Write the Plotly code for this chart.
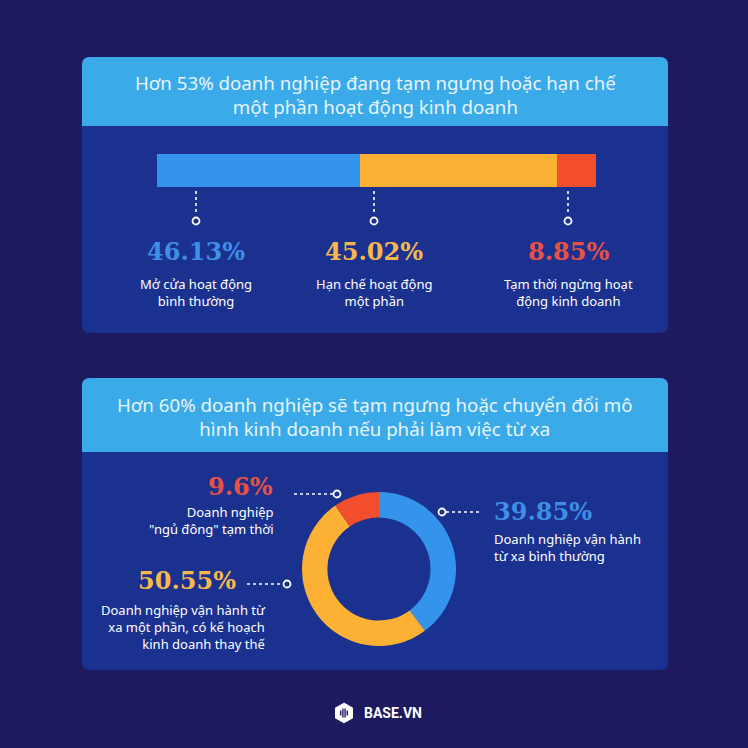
import plotly.graph_objects as go

# ---------------- data ----------------
title_top = "Hơn 53% doanh nghiệp đang tạm ngưng hoặc hạn chế<br>một phần hoạt động kinh doanh"
bar_values = [46.13, 45.02, 8.85]
bar_labels = ["Mở cửa hoạt động<br>bình thường",
              "Hạn chế hoạt động<br>một phần",
              "Tạm thời ngừng hoạt<br>động kinh doanh"]

title_bottom = "Hơn 60% doanh nghiệp sẽ tạm ngưng hoặc chuyển đổi mô<br>hình kinh doanh nếu phải làm việc từ xa"
donut_values = [39.85, 50.55, 9.6]
donut_labels = ["Doanh nghiệp vận hành<br>từ xa bình thường",
                "Doanh nghiệp vận hành từ<br>xa một phần, có kế hoạch<br>kinh doanh thay thế",
                "Doanh nghiệp<br>\"ngủ đông\" tạm thời"]

brand = "BASE.VN"

# ---------------- style ----------------
BG = "#1d1a5f"
BODY = "#1a3190"
HEAD = "#3aaae8"
SEG = ["#3494ec", "#fdb134", "#f24e2d"]
PCT = ["#3f8fe6", "#f7b84b", "#ea5145"]
W = H = 748


def X(px):
    return px / W


def Y(py):
    return 1 - py / H


def rrect(x0, y0, x1, y1, rt, rb):
    p = [f"M {X(x0 + rt)},{Y(y0)}",
         f"L {X(x1 - rt)},{Y(y0)}",
         f"Q {X(x1)},{Y(y0)} {X(x1)},{Y(y0 + rt)}",
         f"L {X(x1)},{Y(y1 - rb)}",
         f"Q {X(x1)},{Y(y1)} {X(x1 - rb)},{Y(y1)}",
         f"L {X(x0 + rb)},{Y(y1)}",
         f"Q {X(x0)},{Y(y1)} {X(x0)},{Y(y1 - rb)}",
         f"L {X(x0)},{Y(y0 + rt)}",
         f"Q {X(x0)},{Y(y0)} {X(x0 + rt)},{Y(y0)}", "Z"]
    return " ".join(p)


fig = go.Figure()

# stacked bar
for i, v in enumerate(bar_values):
    fig.add_trace(go.Bar(x=[v], y=["s"], orientation="h", marker=dict(color=SEG[i], line=dict(width=0)),
                         xaxis="x", yaxis="y", showlegend=False, hoverinfo="x"))

# donut
fig.add_trace(go.Pie(values=donut_values, labels=["a", "b", "c"], hole=0.67, sort=False,
                     direction="clockwise", rotation=0, marker=dict(colors=SEG, line=dict(width=0)),
                     textinfo="none", showlegend=False,
                     domain=dict(x=[X(301), X(457)], y=[Y(646), Y(492)])))

shapes = []
# panels
shapes.append(dict(type="path", path=rrect(82, 57, 668, 333, 8, 8), fillcolor=BODY, line=dict(width=0),
                   xref="paper", yref="paper", layer="below"))
shapes.append(dict(type="path", path=rrect(82, 57, 668, 126, 8, 0), fillcolor=HEAD, line=dict(width=0),
                   xref="paper", yref="paper", layer="below"))
shapes.append(dict(type="path", path=rrect(82, 378, 668, 670, 8, 8), fillcolor=BODY, line=dict(width=0),
                   xref="paper", yref="paper", layer="below"))
shapes.append(dict(type="path", path=rrect(82, 378, 668, 452, 8, 0), fillcolor=HEAD, line=dict(width=0),
                   xref="paper", yref="paper", layer="below"))

annotations = []


def ann(x, y, text, size, color, xanchor="center", weight="normal", family="Noto Sans", align=None):
    annotations.append(dict(x=X(x), y=Y(y), xref="paper", yref="paper", text=text, showarrow=False,
                            xanchor=xanchor, yanchor="middle", align=align or xanchor,
                            font=dict(size=size, color=color, family=family, weight=weight)))


def leader(x0, y0, x1, y1, cx, cy):
    shapes.append(dict(type="line", x0=X(x0), y0=Y(y0), x1=X(x1), y1=Y(y1), xref="paper", yref="paper",
                       line=dict(color="white", width=1.6, dash="dot")))
    shapes.append(dict(type="circle", x0=X(cx - 3.5), y0=Y(cy - 3.5), x1=X(cx + 3.5), y1=Y(cy + 3.5),
                       xref="paper", yref="paper", fillcolor=BODY, line=dict(color="white", width=1.8)))


def pct(v):
    return f"{v:g}%"


# titles
ann(375, 94, title_top, 18.7, "#e8f5fd")
ann(375, 416, title_bottom, 18.7, "#e8f5fd")

# bar callouts
bar_x = [196, 374, 568]
for i, v in enumerate(bar_values):
    leader(bar_x[i], 191, bar_x[i], 215, bar_x[i], 221)
    ann(bar_x[i], 251, pct(v), 24, PCT[i], weight="bold", family="DejaVu Serif")
    ann(bar_x[i], 292, bar_labels[i], 13, "white")

# donut callouts
# blue (right)
leader(446, 512, 481, 512, 442, 512)
ann(492, 512, pct(donut_values[0]), 24, PCT[0], xanchor="left", weight="bold", family="DejaVu Serif")
ann(492, 547, donut_labels[0], 13, "white", xanchor="left")
# orange (left)
leader(247, 584, 283, 584, 287, 584)
ann(238, 580, pct(donut_values[1]), 24, PCT[1], xanchor="right", weight="bold", family="DejaVu Serif")
ann(268, 627, donut_labels[1], 13, "white", xanchor="right")
# red (top-left)
leader(294, 494, 333, 494, 337, 494)
ann(275, 486, pct(donut_values[2]), 24, PCT[2], xanchor="right", weight="bold", family="DejaVu Serif")
ann(276, 520, donut_labels[2], 13, "white", xanchor="right")

# brand logo
cx, cy, r = 344, 713, 9.5
hexp = [(cx, cy - r), (cx + 0.866 * r, cy - 0.5 * r), (cx + 0.866 * r, cy + 0.5 * r), (cx, cy + r),
        (cx - 0.866 * r, cy + 0.5 * r), (cx - 0.866 * r, cy - 0.5 * r)]
shapes.append(dict(type="path", path="M " + " L ".join(f"{X(a)},{Y(b)}" for a, b in hexp) + " Z",
                   fillcolor="white", line=dict(color="white", width=1.5, ), xref="paper", yref="paper"))
for dx, hh in [(-3.3, 2.5), (-1.1, 4.5), (1.1, 4.5), (3.3, 2.5)]:
    shapes.append(dict(type="line", x0=X(cx + dx), x1=X(cx + dx), y0=Y(cy - hh), y1=Y(cy + hh),
                       xref="paper", yref="paper", line=dict(color=BG, width=1.4)))
ann(362, 713, brand, 14, "white", xanchor="left", weight="bold", family="Roboto")

fig.update_layout(
    width=W, height=H, margin=dict(l=0, r=0, t=0, b=0),
    paper_bgcolor=BG, plot_bgcolor="rgba(0,0,0,0)",
    barmode="stack", bargap=0,
    xaxis=dict(domain=[X(157), X(596)], range=[0, 100], visible=False, fixedrange=True),
    yaxis=dict(domain=[Y(187), Y(154)], visible=False, fixedrange=True),
    shapes=shapes, annotations=annotations, showlegend=False,
)

fig.write_html("out.html")
